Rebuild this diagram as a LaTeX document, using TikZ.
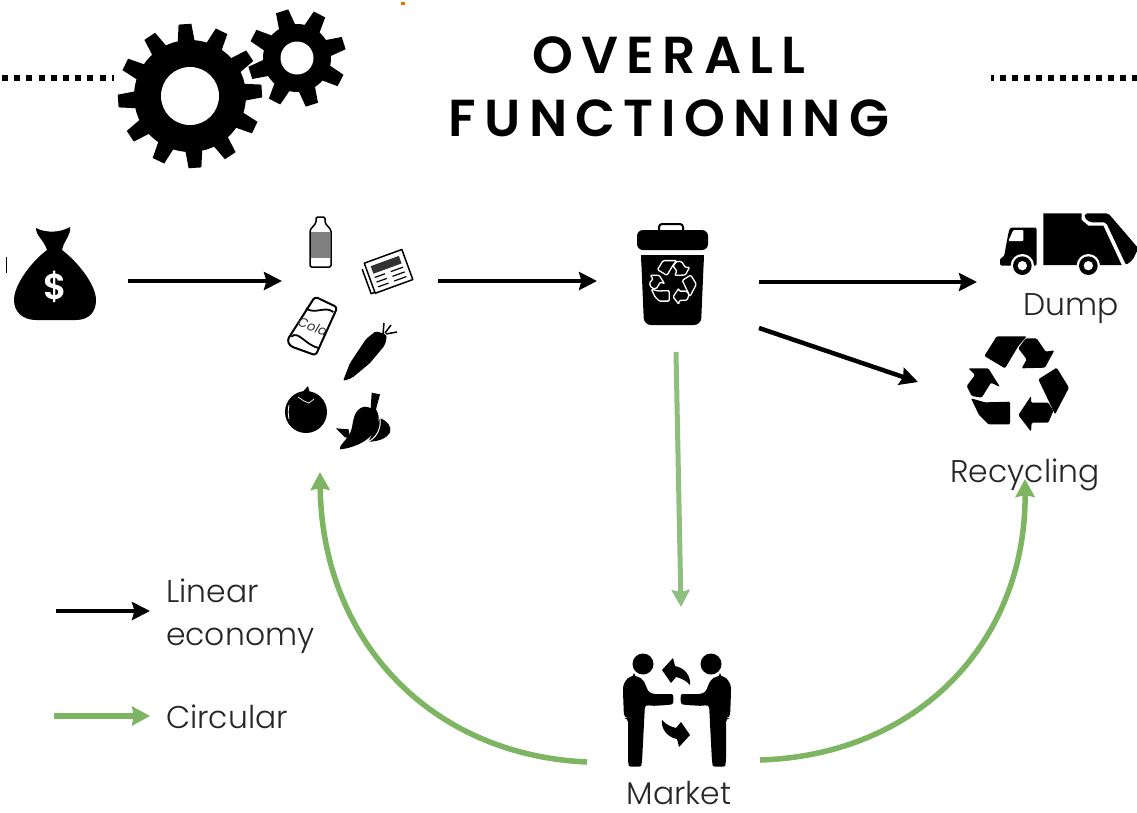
\documentclass[tikz,border=0pt]{standalone}
\usepackage{fontspec}
\usetikzlibrary{arrows.meta}
\setmainfont{Poppins}
\newfontfamily\titlefont[LetterSpace=15.8]{Poppins SemiBold}
\newfontfamily\dollarfont{Poppins SemiBold}
\newfontfamily\labelfont{Poppins Light}
\definecolor{circgreen}{HTML}{7DB562}
\definecolor{paleline}{HTML}{8FBF7E}
\tikzset{
  blackarrow/.style={line width=4.5pt,black,-{Stealth[length=18pt,width=18pt,inset=2.5pt]}},
  greenarrow/.style={line width=5.5pt,circgreen,-{Stealth[length=18pt,width=19pt,inset=2pt]}},
  palearrow/.style={line width=5pt,paleline,-{Stealth[length=17pt,width=18pt,inset=2pt]}},
  dotline/.style={line width=6pt,black,dash pattern=on 6pt off 6.2pt},
  dotlineR/.style={line width=6pt,black,dash pattern=on 6pt off 6pt,dash phase=3pt},
  lab/.style={inner sep=0pt,font=\labelfont\fontsize{31.4}{36}\selectfont,text=black!85},
  titletext/.style={inner sep=0pt,font=\titlefont\fontsize{52}{60}\selectfont},
  thinink/.style={draw=black,line width=1.5pt,line join=round,fill=white}
}
% gear: cx cy body tip toothcount startangle holeradius
\newcommand{\gearicon}[7]{%
  \fill[black] (#1,#2) circle[radius=#3];
  \foreach \k in {1,...,#5}{
    \begin{scope}[shift={(#1,#2)},rotate=#6+\k*360/#5]
      \fill[black] (#3-3,-8.6) -- (#4,-6.4) -- (#4,6.4) -- (#3-3,8.6) -- cycle;
    \end{scope}}
  \fill[white] (#1,#2) circle[radius=#7];
}
% recycling symbol: cx cy scale style (shape in 3x coordinates round 183,172)
\newcommand{\recycleicon}[4]{%
  \begin{scope}[shift={(#1,#2)},scale=#3/3,shift={(-183,-172)},rounded corners=1.2pt]
    \path[#4] (88,85) -- (125,26) -- (215,26) -- (190,55) -- (150,122) -- cycle;
    \path[#4] (190,62) -- (212,32) -- (245,32) -- (272,72) -- (298,68) -- (270,120) -- (200,122) -- (215,95) -- cycle;
    \path[#4] (250,155) -- (305,120) -- (342,180) -- (300,260) -- cycle;
    \path[#4] (190,262) -- (228,205) -- (228,225) -- (280,225) -- (295,250) -- (280,285) -- (230,285) -- (228,312) -- cycle;
    \path[#4] (48,212) -- (90,224) -- (165,222) -- (165,290) -- (100,290) -- (72,262) -- cycle;
    \path[#4] (40,122) -- (100,122) -- (135,178) -- (108,165) -- (80,210) -- (50,205) -- (35,175) -- (60,142) -- cycle;
  \end{scope}
}
\newcommand{\personshape}{%
  \fill[black] (643,664) circle[radius=10.5];
  \fill[black,rounded corners=4pt] (634,677) .. controls (641,677) and (645,682) .. (647,690)
    -- (651,694) -- (668,694) .. controls (674,694) and (674,704) .. (668,705) -- (650,706)
    -- (645,704) -- (642,762) .. controls (641,767) and (629,767) .. (628,762) -- (628,718)
    -- (624,718) -- (623,692) .. controls (623,683) and (628,677) .. (634,677) -- cycle;
}
\newcommand{\swaparrow}{%
  \fill[black] (662,670) -- (673,658) -- (675,666) .. controls (685,668) and (691,676) .. (690,685)
    .. controls (686,680) and (680,678) .. (676,677) -- (671,683) -- cycle;
}
\begin{document}
\begin{tikzpicture}[x=1pt,y=-1pt]
\useasboundingbox (0,0) rectangle (1137,812);
\fill[white] (0,0) rectangle (1137,812);
% speck
\fill[orange!90!black] (401,2) rectangle (405,5);
% header
\coordinate (dotLa) at (2,77.5); \coordinate (dotLb) at (114,77.5);
\coordinate (dotRa) at (991,77.5); \coordinate (dotRb) at (1137,77.5);
\draw[dotline] (dotLa) -- (dotLb);
\draw[dotlineR] (dotRa) -- (dotRb);
\gearicon{190}{96}{56}{72}{12}{4}{29}
\gearicon{297}{58}{34}{49}{8}{17.7}{16.5}
\node[titletext] (title1) at (669,55) {OVERALL};
\node[titletext] (title2) at (669,118) {FUNCTIONING};

% money bag
\fill[black] (6,257) rectangle (7,273);
\fill[black] (47,250) .. controls (31,262) and (14,285) .. (14,300) .. controls (14,312) and (23,320) .. (36,320)
  -- (76,320) .. controls (89,320) and (96,312) .. (96,300) .. controls (96,285) and (78,262) .. (62,250) -- cycle;
\fill[black] (47,250) .. controls (44,240) and (36,236) .. (36,228) .. controls (45,233) and (60,233) .. (70,227)
  .. controls (71,236) and (64,240) .. (62,250) -- cycle;
\node[inner sep=0pt,text=white,font=\dollarfont\fontsize{36}{40}\selectfont] (dollar) at (55,287) {\$};

% bottle
\draw[thinink,rounded corners=1.5pt] (316,217) -- (325,217) -- (325,223) -- (331,230) -- (331,267) -- (310,267) -- (310,230) -- (316,223) -- cycle;
\fill[black!50] (311,232) rectangle (330,258);

% newspaper
\begin{scope}[shift={(387,273)},rotate=20]
  \draw[thinink] (-22,-12) -- (-22,14) -- (14,14);
  \draw[thinink] (-18,-17) rectangle (22,15);
  \fill[black!80] (-13,-12) rectangle (17,-4);
  \foreach \yy in {0,5,10}{
    \draw[black,line width=1.2pt] (-13,\yy) -- (-2,\yy);
    \draw[black,line width=1.2pt] (4,\yy) -- (17,\yy);
  }
\end{scope}

% can, peppers (3x coordinates)
\begin{scope}[shift={(270,200)},scale=1/3]
  \draw[thinink,line width=2pt,rounded corners=3pt] (135,290) -- (202,322) -- (137,466) -- (60,438) -- (52,420) -- cycle;
  \draw[black,line width=1.8pt] (108,325) .. controls (135,345) and (165,316) .. (190,336);
  \draw[black,line width=1.8pt] (64,410) .. controls (85,390) and (105,435) .. (148,445);
  \node[inner sep=0pt,rotate=-20,font=\itshape\fontsize{13}{14}\selectfont,text=black!80] (cola) at (128,380) {Cola};
  % peppers
  \fill[black] (198,685) -- (236,688) -- (240,715) -- (225,712) -- cycle;
  \fill[black] (330,655) .. controls (352,662) and (366,680) .. (360,698) .. controls (350,715) and (325,725) .. (295,725) -- cycle;
  \draw[white,line width=1pt] (330,655) .. controls (335,690) and (315,715) .. (295,725);
  \fill[black] (305,578) -- (330,583) -- (318,628) .. controls (332,650) and (328,680) .. (305,705)
    .. controls (285,728) and (245,745) .. (210,748) .. controls (205,740) and (225,725) .. (240,700)
    .. controls (252,675) and (245,640) .. (272,624) .. controls (282,618) and (295,620) .. (302,625) -- cycle;
\end{scope}

% carrot
\fill[black,rounded corners=2pt] (343,381) -- (350,363) -- (366,339) -- (376,331) -- (387,335) -- (385,345) -- (370,363) -- (352,378) -- cycle;
\draw[black,line width=1.5pt] (383,334) -- (384,323) (385,333) -- (391,325) (386,334) -- (397,332);

% tomato
\fill[black] (306,412) circle[radius=21];
\fill[black] (299,396) -- (308,386) -- (310,394) -- (318,397) -- (309,400) -- cycle;
\draw[white,line width=0.8pt] (289,405) .. controls (288,410) and (288,414) .. (289,419);
\draw[white,line width=0.7pt] (298,397) -- (304,401) -- (309,403) -- (314,399);

% bin
\draw[black,line width=2pt,rounded corners=3pt] (659,231) -- (659,224) -- (683,224) -- (683,231);
\fill[black,rounded corners=6pt] (637,250) -- (637,230) -- (708,230) -- (708,250) -- cycle;
\fill[black,rounded corners=7pt] (641,255) -- (704,255) -- (701,325) -- (644,325) -- cycle;
\fill[black] (641,255) rectangle (704,262);
\recycleicon{672}{283}{0.46}{fill=black,draw=white,line width=1.3pt,line join=round}

% truck
\begin{scope}[shift={(990,205)},scale=1/3]
  \fill[black,rounded corners=1.5pt] (30,182) -- (30,160) -- (42,155) -- (55,85) -- (60,68) -- (140,68) -- (140,182) -- cycle;
  \fill[white,rounded corners=1pt] (55,108) -- (70,75) -- (100,75) -- (100,108) -- cycle;
  \fill[black] (160,25) -- (275,25) -- (275,45) -- (295,62) -- (340,62) -- (395,180) -- (160,180) -- cycle;
  \fill[black,rounded corners=2pt] (285,25) -- (355,25) -- (445,130) -- (428,165) -- (408,180) -- (348,52) -- (300,52) -- (283,38) -- cycle;
  \foreach \wx in {97,295}{
    \fill[white] (\wx,182) circle[radius=35];
    \fill[black] (\wx,182) circle[radius=28];
    \fill[white] (\wx,182) circle[radius=14];
  }
\end{scope}
\node[lab,anchor=base] (dump) at (1071,315) {Dump};

% recycling
\recycleicon{1016}{385}{1}{fill=black}
\node[lab,anchor=base] (recycling) at (1025,482) {Recycling};

% market
\personshape
\begin{scope}[shift={(1354,0)},xscale=-1]
  \personshape
\end{scope}
\swaparrow
\begin{scope}[shift={(1352,1405)},scale=-1]
  \swaparrow
\end{scope}
\node[lab,anchor=base] (market) at (679,804) {Market};

% connector ends
\coordinate (bagOut) at (128,281); \coordinate (goodsIn) at (282,281);
\coordinate (goodsOut) at (438,281); \coordinate (binIn) at (597,281);
\coordinate (binOutA) at (759,282); \coordinate (truckIn) at (977,282);
\coordinate (binOutB) at (759,328); \coordinate (recycleIn) at (918,382);
\coordinate (binOutC) at (676,352); \coordinate (marketIn) at (681,607);
\coordinate (marketOutL) at (587,762); \coordinate (goodsBack) at (320,472);
\coordinate (marketOutR) at (760,760); \coordinate (recyclingBack) at (1025,479);
\coordinate (legA1) at (56,611); \coordinate (legA2) at (150,611);
\coordinate (legB1) at (54,716); \coordinate (legB2) at (150,716);

\draw[blackarrow] (bagOut) -- (goodsIn);
\draw[blackarrow] (goodsOut) -- (binIn);
\draw[blackarrow] (binOutA) -- (truckIn);
\draw[blackarrow] (binOutB) -- (recycleIn);
\draw[palearrow] (binOutC) -- (marketIn);
\draw[greenarrow] (marketOutL) .. controls (430,755) and (322,640) .. (goodsBack);
\draw[greenarrow] (marketOutR) .. controls (920,755) and (1026,640) .. (recyclingBack);

% legend
\draw[blackarrow] (legA1) -- (legA2);
\draw[greenarrow] (legB1) -- (legB2);
\node[lab,anchor=base west] (linear) at (166,602) {Linear};
\node[lab,anchor=base west] (economy) at (166,645) {economy};
\node[lab,anchor=base west] (circular) at (166,728) {Circular};
\end{tikzpicture}
\end{document}
